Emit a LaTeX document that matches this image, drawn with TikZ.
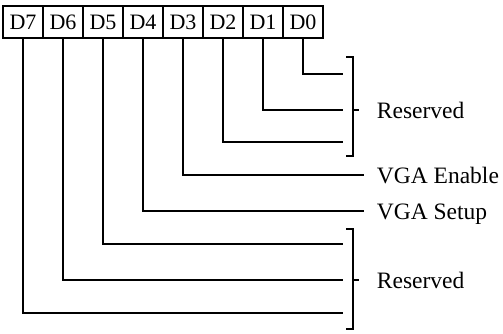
\documentclass[tikz,border=0pt]{standalone}
\usepackage{fontspec}
\setmainfont{Liberation Serif}
\begin{document}
\begin{tikzpicture}[x=1pt,y=1pt,line width=1.8pt,
  bit/.style={draw,minimum width=40pt,minimum height=32pt,inner sep=0pt,font=\fontsize{22}{22}\selectfont},
  lab/.style={anchor=base west,inner sep=0pt,font=\fontsize{23.5}{23.5}\selectfont},
  wire/.style={line width=1.8pt}]
\useasboundingbox (0,0) rectangle (503,-333);
\foreach \i/\n in {0/7,1/6,2/5,3/4,4/3,5/2,6/1,7/0}
  \node[bit] (b\n) at (23+40*\i,-22) {D\n};
% end points
\coordinate (e0) at (343,-74);
\coordinate (e1) at (343,-110);
\coordinate (e2) at (343,-142);
\coordinate (e3) at (364,-175);
\coordinate (e4) at (364,-211);
\coordinate (e5) at (343,-244);
\coordinate (e6) at (343,-280);
\coordinate (e7) at (343,-313);
\foreach \n in {0,...,7}
  \draw[wire] (b\n.south) |- (e\n);
% brackets
\draw[wire] (346,-57) -- (353,-57) -- (353,-156) -- (346,-156);
\draw[wire] (353,-110) -- (359,-110);
\draw[wire] (346,-229) -- (353,-229) -- (353,-329) -- (346,-329);
\draw[wire] (353,-280) -- (359,-280);
% labels
\node[lab] (r1) at (376,-118) {Reserved};
\node[lab] (ve) at (376,-183) {VGA Enable};
\node[lab] (vs) at (376,-219) {VGA Setup};
\node[lab] (r2) at (376,-288) {Reserved};
\end{tikzpicture}
\end{document}
